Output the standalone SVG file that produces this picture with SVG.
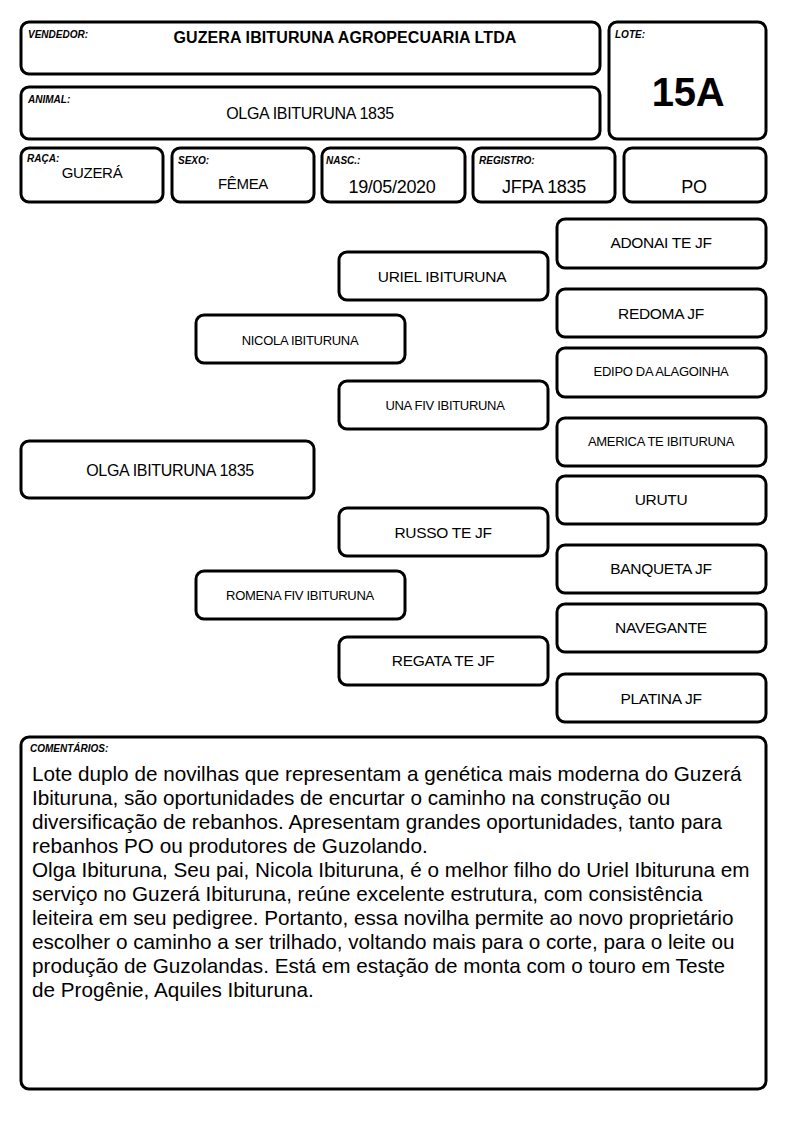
<svg xmlns="http://www.w3.org/2000/svg" width="794" height="1123" viewBox="0 0 794 1123">
<style>
.b{fill:#fff;stroke:#000;stroke-width:3;}
.l{font-family:"Liberation Sans",Arial,sans-serif;font-size:10px;font-weight:bold;font-style:italic;}
.t{font-family:"Liberation Sans",Arial,sans-serif;text-anchor:middle;fill:#000;letter-spacing:-0.3px;}
.c{font-family:"Liberation Sans",Arial,sans-serif;font-size:20.7px;fill:#000;}
</style>
<rect width="794" height="1123" fill="#fff"/>
<g id="vendedor"><rect class="b" x="21" y="22" width="579" height="52" rx="8"/><text class="l" x="28" y="38">VENDEDOR:</text><text class="t" x="345" y="43" font-size="16" font-weight="bold" style="letter-spacing:0.1px">GUZERA IBITURUNA AGROPECUARIA LTDA</text></g>
<g id="lote"><rect class="b" x="609" y="22" width="157" height="117" rx="8"/><text class="l" x="615" y="38">LOTE:</text><text class="t" x="688" y="106" font-size="40" font-weight="bold">15A</text></g>
<g id="animal"><rect class="b" x="21" y="87" width="579" height="52" rx="8"/><text class="l" x="28" y="103">ANIMAL:</text><text class="t" x="310" y="119" font-size="16">OLGA IBITURUNA 1835</text></g>
<g id="raca"><rect class="b" x="21" y="148" width="142" height="54" rx="8"/><text class="l" x="27" y="162">RAÇA:</text><text class="t" x="92" y="178" font-size="15">GUZERÁ</text></g>
<g id="sexo"><rect class="b" x="172" y="148" width="142" height="54" rx="8"/><text class="l" x="178" y="164">SEXO:</text><text class="t" x="243" y="189" font-size="15">FÊMEA</text></g>
<g id="nasc"><rect class="b" x="322" y="148" width="143" height="54" rx="8"/><text class="l" x="326" y="164">NASC.:</text><text class="t" x="392" y="193" font-size="18">19/05/2020</text></g>
<g id="registro"><rect class="b" x="473" y="148" width="142" height="54" rx="8"/><text class="l" x="479" y="164">REGISTRO:</text><text class="t" x="544" y="193" font-size="18">JFPA 1835</text></g>
<g id="po"><rect class="b" x="624" y="148" width="142" height="54" rx="8"/><text class="t" x="694" y="193" font-size="18">PO</text></g>
<g id="adonai"><rect class="b" x="557" y="219" width="209" height="49" rx="8"/><text class="t" x="661" y="248" font-size="15.5">ADONAI TE JF</text></g>
<g id="uriel"><rect class="b" x="339" y="252" width="209" height="48" rx="8"/><text class="t" x="442" y="282" font-size="15.5">URIEL IBITURUNA</text></g>
<g id="redoma"><rect class="b" x="557" y="289" width="209" height="48" rx="8"/><text class="t" x="661" y="319" font-size="15.5">REDOMA JF</text></g>
<g id="nicola"><rect class="b" x="196" y="315" width="209" height="48" rx="8"/><text class="t" x="300" y="345" font-size="13">NICOLA IBITURUNA</text></g>
<g id="edipo"><rect class="b" x="557" y="348" width="209" height="49" rx="8"/><text class="t" x="661" y="376" font-size="13">EDIPO DA ALAGOINHA</text></g>
<g id="una"><rect class="b" x="339" y="381" width="209" height="48" rx="8"/><text class="t" x="445" y="410" font-size="13">UNA FIV IBITURUNA</text></g>
<g id="america"><rect class="b" x="557" y="418" width="209" height="48" rx="8"/><text class="t" x="661" y="446" font-size="13">AMERICA TE IBITURUNA</text></g>
<g id="olga"><rect class="b" x="21" y="441" width="293" height="57" rx="8"/><text class="t" x="170" y="476" font-size="16">OLGA IBITURUNA 1835</text></g>
<g id="urutu"><rect class="b" x="557" y="476" width="209" height="48" rx="8"/><text class="t" x="661" y="505" font-size="15.5">URUTU</text></g>
<g id="russo"><rect class="b" x="339" y="508" width="209" height="48" rx="8"/><text class="t" x="443" y="538" font-size="15.5">RUSSO TE JF</text></g>
<g id="banqueta"><rect class="b" x="557" y="545" width="209" height="48" rx="8"/><text class="t" x="661" y="574" font-size="15.5">BANQUETA JF</text></g>
<g id="romena"><rect class="b" x="196" y="571" width="209" height="48" rx="8"/><text class="t" x="300" y="600" font-size="13">ROMENA FIV IBITURUNA</text></g>
<g id="navegante"><rect class="b" x="557" y="604" width="209" height="48" rx="8"/><text class="t" x="661" y="633" font-size="15.5">NAVEGANTE</text></g>
<g id="regata"><rect class="b" x="339" y="637" width="209" height="48" rx="8"/><text class="t" x="443" y="666" font-size="15.5">REGATA TE JF</text></g>
<g id="platina"><rect class="b" x="557" y="674" width="209" height="48" rx="8"/><text class="t" x="661" y="704" font-size="15.5">PLATINA JF</text></g>
<g id="connectors"></g>
<g id="comentarios"><rect class="b" x="21" y="737" width="745" height="352" rx="8"/><text class="l" x="30" y="752">COMENTÁRIOS:</text>
<text class="c" x="32" y="781">Lote duplo de novilhas que representam a genética mais moderna do Guzerá</text>
<text class="c" x="32" y="805">Ibituruna, são oportunidades de encurtar o caminho na construção ou</text>
<text class="c" x="32" y="829">diversificação de rebanhos. Apresentam grandes oportunidades, tanto para</text>
<text class="c" x="32" y="853">rebanhos PO ou produtores de Guzolando.</text>
<text class="c" x="32" y="877">Olga Ibituruna, Seu pai, Nicola Ibituruna, é o melhor filho do Uriel Ibituruna em</text>
<text class="c" x="32" y="901">serviço no Guzerá Ibituruna, reúne excelente estrutura, com consistência</text>
<text class="c" x="32" y="925">leiteira em seu pedigree. Portanto, essa novilha permite ao novo proprietário</text>
<text class="c" x="32" y="949">escolher o caminho a ser trilhado, voltando mais para o corte, para o leite ou</text>
<text class="c" x="32" y="973">produção de Guzolandas. Está em estação de monta com o touro em Teste</text>
<text class="c" x="32" y="997">de Progênie, Aquiles Ibituruna.</text>
</g>
</svg>
